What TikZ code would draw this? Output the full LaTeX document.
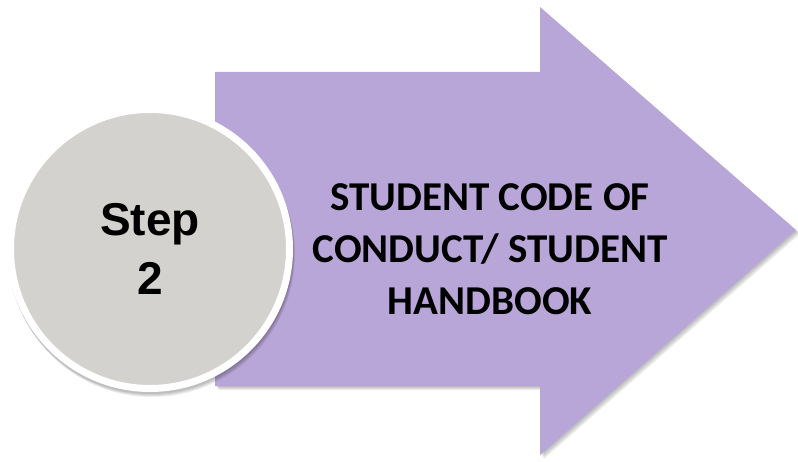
\documentclass[tikz,border=0pt]{standalone}
\usepackage{fontspec}
\setmainfont{Liberation Sans}
\newfontfamily\calib{Carlito}
\definecolor{arrowpurple}{RGB}{185,166,217}
\definecolor{circlegray}{RGB}{211,210,206}
\tikzset{
  arrowshape/.style={fill=arrowpurple, draw=none},
  shadowshape/.style={fill=black, draw=none, opacity=0.07},
  stepcircle/.style={circle, fill=circlegray, draw=white, line width=7pt, minimum size=279pt, inner sep=0pt},
  steplabel/.style={font=\bfseries\fontsize{46}{59}\selectfont, align=center, text=black},
  titlelabel/.style={font=\calib\bfseries\fontsize{41}{52}\selectfont, align=center, text=black}
}
\begin{document}
\begin{tikzpicture}[x=1pt,y=-1pt]
\useasboundingbox (0,0) rectangle (798,462);
% shadows of the arrow
\foreach \d in {1,2,3,4}{
  \fill[shadowshape] (215+\d,72+\d) -- (540+\d,72+\d) -- (540+\d,7+\d) -- (796+\d,230+\d) -- (540+\d,455+\d) -- (540+\d,386+\d) -- (215+\d,386+\d) -- cycle;
}
% arrow
\coordinate (sTL) at (215,72);
\coordinate (hTop) at (540,7);
\coordinate (tip) at (796,230);
\coordinate (hBot) at (540,455);
\coordinate (sBL) at (215,386);
\fill[arrowshape] (sTL) -- (540,72) -- (hTop) -- (tip) -- (hBot) -- (540,386) -- (sBL) -- cycle;
% circle shadow
\foreach \d in {1,2,3,4}{
  \fill[shadowshape] (150+0.5*\d,250+\d) circle (143);
}
\node[stepcircle] (step) at (150,249) {};
\node[steplabel] (steptext) at (150,249) {Step\\2};
\node[titlelabel] (title) at (490,249) {STUDENT CODE OF\\CONDUCT/ STUDENT\\HANDBOOK};
\end{tikzpicture}
\end{document}
